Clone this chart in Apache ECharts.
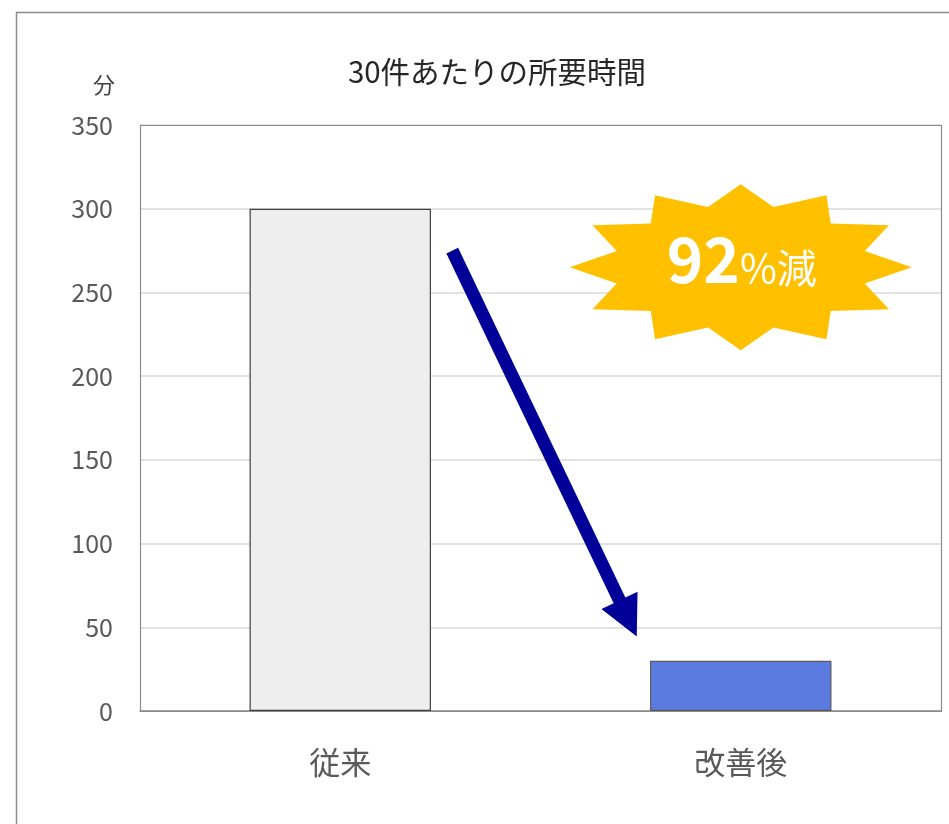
<!DOCTYPE html>
<html>
<head>
<meta charset="utf-8">
<script src="https://cdn.jsdelivr.net/npm/echarts@6/dist/echarts.min.js"></script>
<style>
  html, body { margin: 0; padding: 0; background: #fff; }
  #chart { width: 949px; height: 824px; }
</style>
</head>
<body>
<div id="chart"></div>
<script>
// data
const categories = ['従来', '改善後']
const minutes = [300, 30]
const barColors = ['#eeeeee', '#5b7be0']
const barBorders = ['#404040', '#595959']
const yTicks = [0, 50, 100, 150, 200, 250, 300, 350]
const reduction = '92'

const font = '"Noto Sans CJK JP", "Noto Sans", sans-serif'
const chart = echarts.init(document.getElementById('chart'))

chart.setOption({
  backgroundColor: '#fff',
  animation: false,
  title: {
    text: '30件あたりの所要時間',
    left: 492,
    textAlign: 'center',
    top: 52,
    textStyle: { fontFamily: font, fontSize: 29.5, fontWeight: 'normal', color: '#262626' }
  },
  grid: { left: 140, right: 8, top: 125, bottom: 113 },
  xAxis: {
    type: 'category',
    data: categories,
    axisLine: { show: true, lineStyle: { color: '#8c8c8c', width: 1.5 } },
    axisTick: { show: false },
    axisLabel: { fontFamily: font, fontSize: 31, color: '#595959', margin: 36 }
  },
  yAxis: {
    type: 'value',
    min: yTicks[0],
    max: yTicks[yTicks.length - 1],
    interval: yTicks[1] - yTicks[0],
    name: '分',
    nameLocation: 'end',
    nameGap: 29,
    nameTextStyle: { fontFamily: font, fontSize: 22, color: '#404040', align: 'right', padding: [0, 25, 0, 0] },
    axisLine: { show: false },
    axisTick: { show: false },
    splitLine: { lineStyle: { color: '#d9d9d9', width: 1.5 } },
    axisLabel: { fontFamily: font, fontSize: 25, color: '#595959', margin: 27 }
  },
  series: [{
    type: 'bar',
    barWidth: '45.3%',
    data: minutes.map((v, i) => ({
      value: v,
      itemStyle: { color: barColors[i], borderColor: barBorders[i], borderWidth: 1.2 }
    }))
  }]
})

// 注釈（枠・矢印・星）はグリッド座標から位置を決める
const drawNotes = () => {
  const p = (c, v) => chart.convertToPixel({ gridIndex: 0 }, [c, v])
  const rect = chart.getModel().getComponent('grid', 0).coordinateSystem.getRect()

  // arrow from near top of the first bar down to the second
  const start = p(0, 275); start[0] += 112
  const tip = p(1, 44.5); tip[0] -= 104
  const dx = tip[0] - start[0], dy = tip[1] - start[1]
  const len = Math.sqrt(dx * dx + dy * dy)
  const ux = dx / len, uy = dy / len
  const nx = -uy, ny = ux
  const shaftHalf = 6.5, headHalf = 20, headLen = 40
  const bx = tip[0] - ux * headLen, by = tip[1] - uy * headLen
  const arrow = [
    [start[0] + nx * shaftHalf, start[1] + ny * shaftHalf],
    [bx + nx * shaftHalf, by + ny * shaftHalf],
    [bx + nx * headHalf, by + ny * headHalf],
    tip,
    [bx - nx * headHalf, by - ny * headHalf],
    [bx - nx * shaftHalf, by - ny * shaftHalf],
    [start[0] - nx * shaftHalf, start[1] - ny * shaftHalf]
  ]

  // 12-point burst around a centre
  const c = p(1, 265)
  const outerR = [[0, -83], [85.7, -72], [148.3, -42], [171, 0]]
  const innerR = [[32.7, -60.3], [90, -43.7], [124, -16.3]]
  const quarter = []
  for (let i = 0; i < 3; i++) { quarter.push(outerR[i]); quarter.push(innerR[i]) }
  quarter.push(outerR[3])
  const right = quarter.concat(quarter.slice(0, -1).reverse().map(([x, y]) => [x, -y]))
  const full = right.concat(right.slice(1, -1).reverse().map(([x, y]) => [-x, y]))
  const star = full.map(([x, y]) => [c[0] + x, c[1] + y])

  chart.setOption({
    graphic: [
      {
        type: 'rect', silent: true,
        shape: { x: 16.5, y: 12.5, width: 2000, height: 2000 },
        style: { fill: 'none', stroke: '#8c8c8c', lineWidth: 1.5 }
      },
      {
        type: 'rect', silent: true, z: 1,
        shape: { x: Math.round(rect.x) + 0.5, y: Math.round(rect.y) + 0.5, width: Math.round(rect.width), height: Math.round(rect.height) },
        style: { fill: 'none', stroke: '#8c8c8c', lineWidth: 1.2 }
      },
      { type: 'polygon', silent: true, z: 2, shape: { points: arrow }, style: { fill: '#000099' } },
      { type: 'polygon', silent: true, z: 2, shape: { points: star }, style: { fill: '#ffc000' } },
      {
        type: 'text', silent: true, z: 3,
        x: c[0] + 1, y: c[1] - 8,
        style: {
          text: '{a|' + reduction + '}{b|%減}',
          align: 'center', verticalAlign: 'middle',
          rich: {
            a: { fontFamily: font, fontSize: 62, fontWeight: 'bold', fill: '#fff', verticalAlign: 'bottom' },
            b: { fontFamily: font, fontSize: 40, fill: '#fff', verticalAlign: 'bottom', padding: [0, 0, 3, 0] }
          }
        }
      }
    ]
  })
}
drawNotes()
</script>
</body>
</html>
